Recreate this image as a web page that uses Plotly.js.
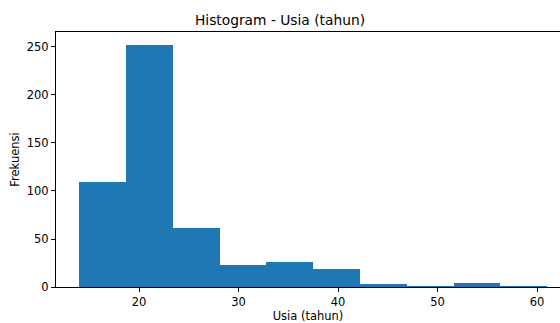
<!DOCTYPE html>
<html>
<head>
<meta charset="utf-8">
<script src="https://cdn.plot.ly/plotly-3.0.1.min.js"></script>
<style>html,body{margin:0;padding:0;background:#fff;}#chart{width:560px;height:323px;}</style>
</head>
<body>
<div id="chart"></div>
<script>
// Bin edges (years) and counts per bin
var binEdges = [14.0, 18.7, 23.4, 28.1, 32.8, 37.5, 42.2, 46.9, 51.6, 56.3, 61.0];
var counts = [109, 252, 61, 23, 26, 19, 3, 1, 4, 1];
var xTicks = [20, 30, 40, 50, 60];
var yTicks = [0, 50, 100, 150, 200, 250];

var centers = [], widths = [];
for (var i = 0; i < counts.length; i++) {
  centers.push((binEdges[i] + binEdges[i + 1]) / 2);
  widths.push(binEdges[i + 1] - binEdges[i]);
}

var font = {family: 'DejaVu Sans, sans-serif', size: 11.5, color: '#000'};

Plotly.newPlot('chart', [{
  type: 'bar',
  x: centers,
  y: counts,
  width: widths,
  marker: {color: '#1f77b4', line: {width: 0}},
  hoverinfo: 'x+y'
}], {
  width: 560, height: 323,
  margin: {l: 56, r: 0, t: 32, b: 36, pad: 0},
  paper_bgcolor: '#fff', plot_bgcolor: '#fff',
  font: font,
  showlegend: false,
  bargap: 0,
  title: {text: 'Histogram - Usia (tahun)', font: {family: 'DejaVu Sans, sans-serif', size: 13.8, color: '#000'}, x: 0.5, xanchor: 'center', y: 0.938, yanchor: 'middle'},
  xaxis: {
    range: [11.65, 62.3],
    tickvals: xTicks, ticktext: xTicks.map(String),
    ticks: 'outside', ticklen: 4, tickwidth: 1, tickcolor: '#000',
    showline: true, linecolor: '#000', linewidth: 1, mirror: true,
    showgrid: false, zeroline: false,
    tickfont: font,
    title: {text: 'Usia (tahun)', font: font, standoff: 5},
    automargin: false
  },
  yaxis: {
    range: [0, 265.6],
    tickvals: yTicks, ticktext: yTicks.map(String),
    ticks: 'outside', ticklen: 4, tickwidth: 1, tickcolor: '#000',
    showline: true, linecolor: '#000', linewidth: 1, mirror: false,
    showgrid: false, zeroline: false,
    tickfont: font,
    title: {text: 'Frekuensi', font: font, standoff: 4},
    automargin: false
  }
}, {displayModeBar: false, staticPlot: true});
</script>
</body>
</html>
